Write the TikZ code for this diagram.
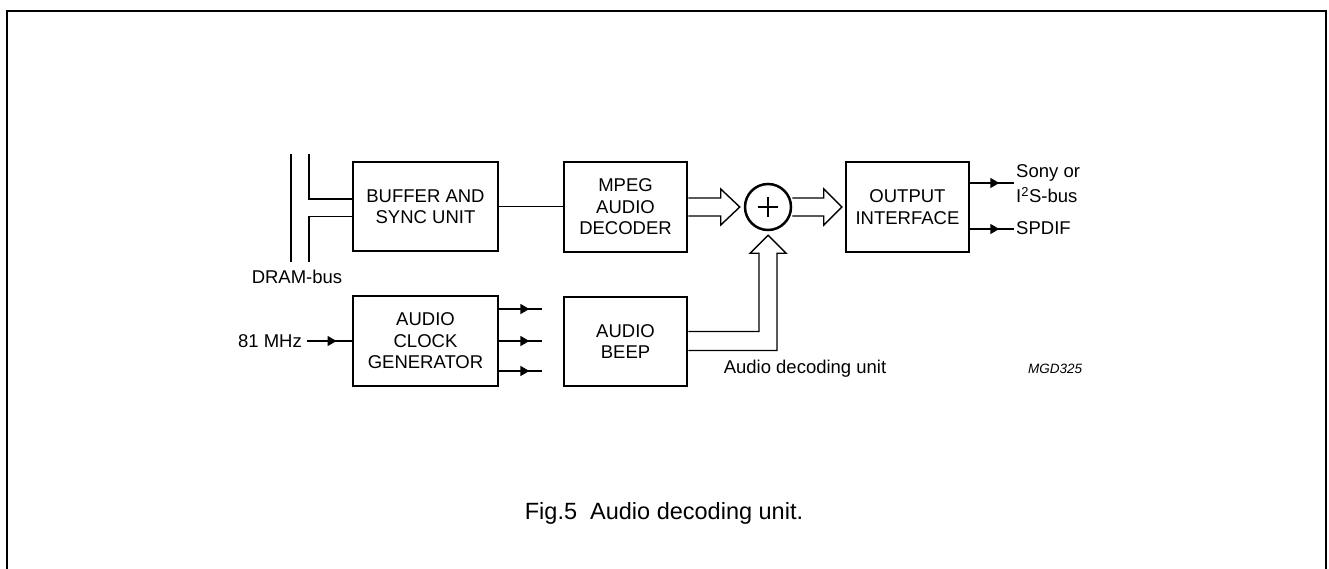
\documentclass[tikz,border=0pt]{standalone}
\usepackage{fontspec}
\setmainfont{Liberation Sans}
\usetikzlibrary{calc,arrows.meta,decorations.markings}
\begin{document}
\begin{tikzpicture}[x=1pt,y=-1pt,
  box/.style={draw,line width=2.5pt,inner sep=0pt,align=center,font=\fontsize{18.5}{21.5}\selectfont},
  txt/.style={inner sep=0pt,font=\fontsize{18.5}{21.5}\selectfont},
  wire/.style={line width=1.4pt},
  hol/.style={line width=1.4pt,line join=miter},
  tri/.style={postaction={decorate},decoration={markings,mark=at position #1 with {\arrow{Triangle[length=9pt,width=10pt]}}}}]
\useasboundingbox (0,0) rectangle (1329,569);
% frame
\draw[line width=2pt] (7,569) -- (7,11) -- (1326,11) -- (1326,569);
% blocks
\node[box,minimum width=145pt,minimum height=89pt] (buf) at (425.5,206.5) {BUFFER AND\\SYNC UNIT};
\node[box,minimum width=123pt,minimum height=90pt] (mpeg) at (625.5,207) {MPEG\\AUDIO\\DECODER};
\node[circle,draw,line width=2.5pt,minimum size=46pt,inner sep=0pt] (sum) at (768,207) {};
\node[box,minimum width=123pt,minimum height=90pt] (out) at (907.5,207) {OUTPUT\\INTERFACE};
\node[box,minimum width=145pt,minimum height=90pt] (clk) at (425.5,341) {AUDIO\\CLOCK\\GENERATOR};
\node[box,minimum width=123pt,minimum height=89pt] (beep) at (625.5,341.5) {AUDIO\\BEEP};
% plus sign
\draw[line width=1.8pt] ($(sum.center)+(-10,0)$) -- ($(sum.center)+(10,0)$);
\draw[line width=1.8pt] ($(sum.center)+(0,-10)$) -- ($(sum.center)+(0,10)$);
% labels
\node[txt] (dram) at (297,277) {DRAM-bus};
\node[txt,anchor=east] (mhz) at (302,341) {81 MHz};
\node[txt,anchor=west] (sony) at (1016,173) {Sony or};
\node[txt,anchor=west] (i2s) at (1016,195) {I\textsuperscript{2}S-bus};
\node[txt,anchor=west] (spdif) at (1016,228) {SPDIF};
\node[txt] (adu) at (805,369) {Audio decoding unit};
\node[inner sep=0pt,font=\fontsize{13.5}{16}\selectfont\itshape] (mgd) at (1055,369) {MGD325};
\node[inner sep=0pt,font=\fontsize{23.5}{28}\selectfont] (cap) at (664,513) {Fig.5\ \ Audio decoding unit.};
% DRAM bus
\coordinate (busA1) at (291,154);
\coordinate (busA2) at (291,262);
\coordinate (busB1) at (309,154);
\coordinate (busB2) at (309,262);
\draw[wire] (busA1) -- (busA2);
\draw[wire] (busB1) |- ($(buf.west)+(0,-7.5)$);
\draw[wire] ($(buf.west)+(0,10)$) -| (busB2);
% buffer to mpeg
\draw[wire] (buf.east) -- (buf.east -| mpeg.west);
% hollow arrows
\draw[hol] ($(mpeg.east)+(0,-9)$) -- ($(sum.west)+(-23,-9)$) -- ++(0,-9) -- ($(sum.west)+(-4,0)$) -- ++(-19,18) -- ++(0,-9) -- ($(mpeg.east)+(0,9)$);
\draw[hol] ($(sum.east)+(0,-9)$) -- ($(out.west)+(-21,-9)$) -- ++(0,-9) -- ($(out.west)+(-3,0)$) -- ++(-18,18) -- ++(0,-9) -- ($(sum.east)+(0,9)$);
\draw[hol] ($(beep.east)+(0,-10)$) -| ($(sum.south)+(-9,22)$) -- ++(-9,0) -- ($(sum.south)+(0,4)$) -- ++(18,18) -- ++(-9,0) |- ($(beep.east)+(0,9)$);
% clock input and outputs
\draw[wire,tri=0.66] ($(mhz.east)+(5,0)$) -- (clk.west);
\coordinate (co1) at ($(clk.east)+(43,-32)$);
\coordinate (co2) at ($(clk.east)+(43,0)$);
\coordinate (co3) at ($(clk.east)+(43,30)$);
\draw[wire,tri=0.7] ($(clk.east)+(0,-32)$) -- (co1);
\draw[wire,tri=0.7] (clk.east) -- (co2);
\draw[wire,tri=0.7] ($(clk.east)+(0,30)$) -- (co3);
% outputs
\coordinate (oo1) at ($(out.east)+(44,-24)$);
\coordinate (oo2) at ($(out.east)+(44,22)$);
\draw[wire,tri=0.66] ($(out.east)+(0,-24)$) -- (oo1);
\draw[wire,tri=0.66] ($(out.east)+(0,22)$) -- (oo2);
\end{tikzpicture}
\end{document}
